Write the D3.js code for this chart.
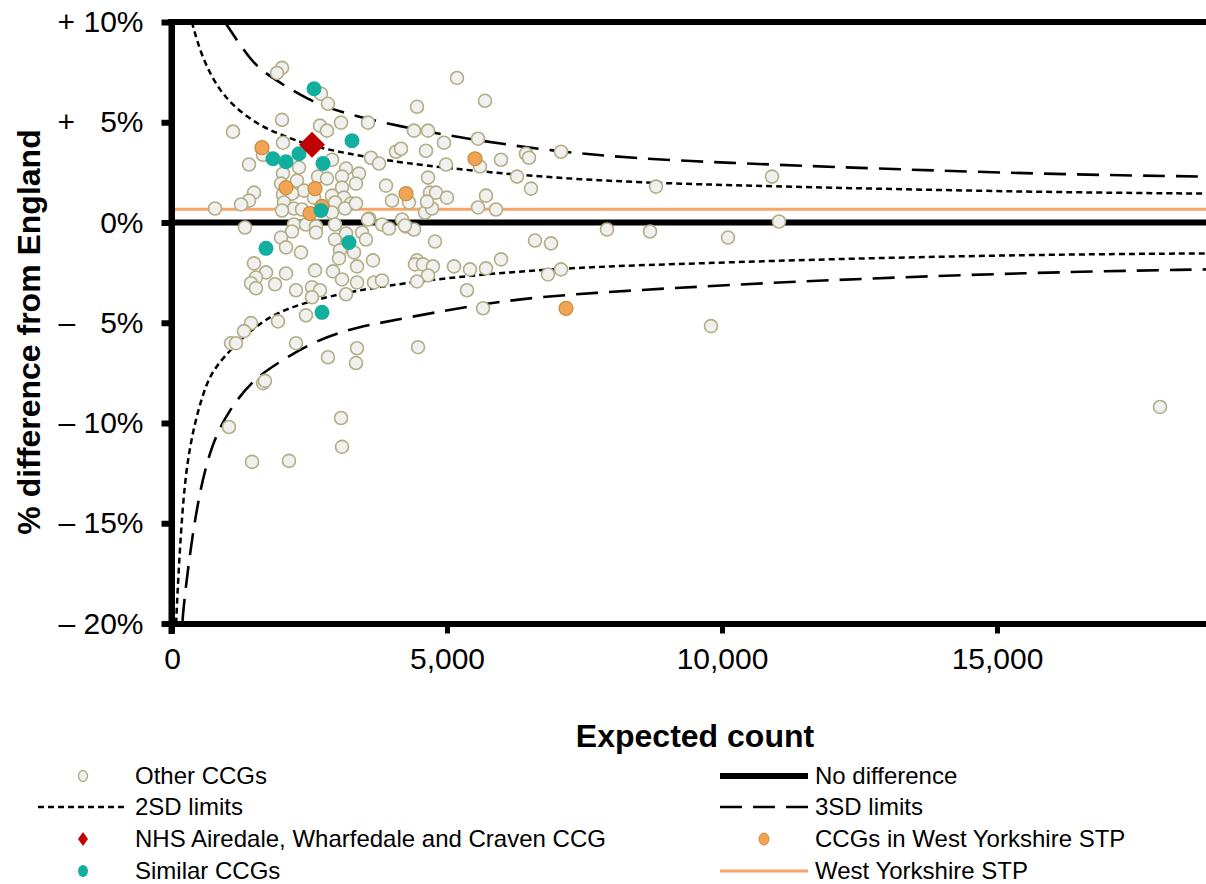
<!DOCTYPE html>
<html>
<head>
<meta charset="utf-8">
<script src="https://cdn.jsdelivr.net/npm/d3@7"></script>
<style>
  body { margin: 0; background: #fff; }
  svg { font-family: "Liberation Sans", Arial, sans-serif; }
</style>
</head>
<body>
<div id="chart"></div>
<script>
// expected count / % difference from England
const otherCCGs = [
  [2000, 7.71], [1909, 7.46], [2709, 6.42], [2836, 5.92], [5182, 7.21], [5691, 6.07], [4455, 5.77],
  [3073, 4.98], [3564, 4.98], [2000, 5.12], [1109, 4.53], [2691, 4.83], [2818, 4.58], [2018, 3.98],
  [1655, 3.38], [2909, 3.13], [1400, 2.89], [3618, 3.23], [3764, 2.94], [4073, 3.53], [4164, 3.68],
  [4400, 4.58], [4655, 4.58], [4945, 3.98], [4618, 3.58], [4982, 2.89], [5564, 4.18], [5600, 2.79],
  [5982, 3.13], [6436, 3.43], [6491, 3.23], [7073, 3.53], [2309, 2.74], [3164, 2.69], [3400, 2.44],
  [2018, 2.44], [2655, 2.29], [2273, 2.09], [1982, 1.94], [2818, 2.19], [3091, 2.29], [3345, 1.94],
  [3091, 1.74], [2400, 1.59], [3891, 1.84], [4000, 1.09], [1491, 1.49], [1400, 1.09], [1255, 0.90],
  [782, 0.70], [2018, 1.39], [2182, 1.44], [2909, 1.34], [3127, 1.24], [3255, 0.95], [2964, 1.00],
  [2036, 1.00], [2218, 0.70], [2000, 0.60], [2582, 1.24], [2909, 0.50], [3145, 0.70], [3345, 0.95],
  [2364, 0.65], [3582, 0.20], [4309, 1.00], [4600, 0.50], [4727, 0.70], [4655, 2.24], [4691, 1.49],
  [4800, 1.49], [5000, 1.24], [5709, 1.34], [4636, 1.04], [5564, 0.75], [5891, 0.65], [6273, 2.29],
  [6527, 1.69], [8800, 1.79], [10909, 2.29], [4182, 0.15],
  [11036, 0.05], [7909, -0.35], [8691, -0.45], [10109, -0.75], [6600, -0.90], [6891, -1.04],
  [4255, -0.20], [4400, -0.35], [4782, -0.95], [4455, -1.89], [4418, -2.09], [4564, -2.09],
  [4745, -2.19], [4655, -2.64], [4455, -2.94], [5127, -2.19], [5418, -2.34], [5709, -2.29],
  [5982, -1.84], [6836, -2.59], [7073, -2.34], [5364, -3.38], [5655, -4.28], [9800, -5.17],
  [4473, -6.22], [17964, -9.20],
  [1327, -0.25], [2218, -0.10], [2436, -0.10], [2182, -0.45], [2618, -0.20], [2618, -0.50],
  [2964, -0.10], [3564, 0.15], [3818, -0.10], [3945, -0.30], [4236, -0.15], [1982, -0.75],
  [2073, -1.24], [2345, -1.49], [2964, -0.85], [3164, -0.55], [3455, -0.50], [3527, -0.85],
  [3055, -1.39], [3309, -1.49], [3036, -1.79], [3655, -1.89], [3364, -2.19], [1491, -2.04],
  [1709, -2.49], [2073, -2.54], [2600, -2.39], [2927, -2.44], [3091, -2.84], [3364, -2.99],
  [3673, -2.99], [3818, -2.89], [1527, -2.74], [1436, -3.03], [1527, -3.28], [1873, -3.08],
  [2255, -3.38], [2545, -3.23], [2691, -3.38], [2545, -3.73], [3164, -3.58], [2436, -4.63],
  [1927, -4.93], [1436, -5.02], [1309, -5.42], [1073, -6.02], [1164, -6.02], [2255, -6.02],
  [2836, -6.72], [3364, -6.27], [3345, -7.01], [1655, -8.01], [1690, -7.90], [1036, -10.20],
  [1455, -11.94], [2127, -11.89], [3073, -9.75], [3091, -11.19]
];

const westYorksCCGs = [
  [1636, 3.73], [2073, 1.74], [2600, 1.69], [2727, 0.80], [2509, 0.45], [4255, 1.44], [5509, 3.18], [7164, -4.28]
];

const similarCCGs = [
  [2582, 6.67], [3273, 4.08], [1836, 3.18], [2073, 3.03], [2309, 3.43], [2745, 2.94],
  [2709, 0.60], [1709, -1.29], [3218, -1.00], [2727, -4.48]
];

const airedale = [[2545, 3.88]];

const westYorksSTP = 0.66;

// control limits
const limit2Upper = [[360, 10.0], [545, 8.2], [855, 6.6], [1160, 5.7], [1580, 4.85], [2000, 4.35], [2490, 3.85],
  [3160, 3.45], [4150, 2.97], [5950, 2.44], [7760, 2.08], [9580, 1.9], [11700, 1.75], [15640, 1.52], [18800, 1.44]];
const limit3Upper = [[960, 10.0], [1455, 7.96], [1764, 7.31], [2490, 6.07], [3090, 5.47], [4150, 4.78], [5345, 4.18],
  [6855, 3.58], [8364, 3.2], [10100, 2.98], [11700, 2.8], [15640, 2.42], [18800, 2.29]];
const limit2Lower = [[60, -21.5], [73, -19.8], [164, -15.2], [255, -12.3], [400, -10.1], [618, -8.0], [855, -6.9],
  [1636, -4.78], [2364, -4.03], [3091, -3.53], [4150, -3.03], [5945, -2.49], [7764, -2.19], [9582, -2.04],
  [11709, -1.84], [15636, -1.6], [18800, -1.54]];
const limit3Lower = [[160, -21.5], [182, -19.8], [309, -16.8], [491, -13.5], [727, -11.0], [1036, -9.35],
  [1455, -7.9], [1891, -7.05], [2618, -5.87], [3345, -5.22], [4280, -4.75], [5945, -3.88], [7764, -3.48],
  [9582, -3.2], [11709, -2.89], [15636, -2.49], [18800, -2.34]];

const xTicks = [0, 5000, 10000, 15000];
const yTicks = [10, 5, 0, -5, -10, -15, -20];
const yTickLabels = ['+ 10%', '+ \u20075%', '0%', '\u2013 \u20075%', '\u2013 10%', '\u2013 15%', '\u2013 20%'];

const width = 1206;
const height = 884;

const svg = d3.select('#chart')
  .append('svg')
  .attr('width', width)
  .attr('height', height);

const x = d3.scaleLinear().domain([0, 18800]).range([172, 1206]);
const y = d3.scaleLinear().domain([-20, 10]).range([623.5, 22]);

const colGrey = '#f0f0ee';
const colGreyStroke = '#b2ad86';
const colTeal = '#12ae9e';
const colOrange = '#f2a455';
const colOrangeStroke = '#c98b3b';
const colRed = '#c00000';
const colStp = '#f7a468';

svg.append('clipPath')
  .attr('id', 'plot-clip')
  .append('rect')
  .attr('x', 172).attr('y', 22)
  .attr('width', 1206 - 172).attr('height', 623.5 - 22);

const plot = svg.append('g').attr('clip-path', 'url(#plot-clip)');

// West Yorkshire STP level
plot.append('line')
  .attr('x1', x(0)).attr('x2', x(18800))
  .attr('y1', y(westYorksSTP)).attr('y2', y(westYorksSTP))
  .attr('stroke', colStp)
  .attr('stroke-width', 3);

// zero line
plot.append('line')
  .attr('x1', x(0)).attr('x2', x(18800))
  .attr('y1', y(0)).attr('y2', y(0))
  .attr('stroke', '#000')
  .attr('stroke-width', 6);

const line = d3.line()
  .x(d => x(d[0]))
  .y(d => y(d[1]))
  .curve(d3.curveBasis);

[limit2Upper, limit2Lower].forEach(lim => {
  plot.append('path')
    .attr('d', line(lim))
    .attr('fill', 'none')
    .attr('stroke', '#000')
    .attr('stroke-width', 2.5)
    .attr('stroke-dasharray', '6,4');
});

[limit3Upper, limit3Lower].forEach(lim => {
  plot.append('path')
    .attr('d', line(lim))
    .attr('fill', 'none')
    .attr('stroke', '#000')
    .attr('stroke-width', 2.6)
    .attr('stroke-dasharray', '22,11');
});

// points
plot.append('g')
  .selectAll('circle')
  .data(otherCCGs)
  .enter()
  .append('circle')
  .attr('cx', d => x(d[0]))
  .attr('cy', d => y(d[1]))
  .attr('r', 6.5)
  .attr('fill', colGrey)
  .attr('stroke', colGreyStroke)
  .attr('stroke-width', 1.6);

plot.append('g')
  .selectAll('circle')
  .data(westYorksCCGs)
  .enter()
  .append('circle')
  .attr('cx', d => x(d[0]))
  .attr('cy', d => y(d[1]))
  .attr('r', 7)
  .attr('fill', colOrange)
  .attr('stroke', colOrangeStroke)
  .attr('stroke-width', 1.2);

plot.append('g')
  .selectAll('circle')
  .data(similarCCGs)
  .enter()
  .append('circle')
  .attr('cx', d => x(d[0]))
  .attr('cy', d => y(d[1]))
  .attr('r', 7.5)
  .attr('fill', colTeal);

plot.append('g')
  .selectAll('path')
  .data(airedale)
  .enter()
  .append('path')
  .attr('transform', d => `translate(${x(d[0])},${y(d[1])})`)
  .attr('d', 'M0,-13L13,0L0,13L-13,0Z')
  .attr('fill', colRed);

// top border
svg.append('line')
  .attr('x1', 168).attr('x2', 1206)
  .attr('y1', y(10)).attr('y2', y(10))
  .attr('stroke', '#000').attr('stroke-width', 6);

// axes
const yAxis = d3.axisLeft(y)
  .tickValues(yTicks)
  .tickSize(10)
  .tickSizeOuter(0)
  .tickPadding(18)
  .tickFormat((d, i) => yTickLabels[i]);

const yG = svg.append('g')
  .attr('transform', `translate(${x(0) - 0.5},0)`)
  .call(yAxis);
yG.select('.domain').attr('stroke-width', 6);
yG.selectAll('.tick line').attr('stroke-width', 6);
yG.selectAll('.tick text')
  .attr('font-size', 30)
  .attr('font-family', '"Liberation Sans", Arial, sans-serif')
  .attr('fill', '#000');

const xAxis = d3.axisBottom(x)
  .tickValues(xTicks)
  .tickSize(10)
  .tickSizeOuter(0)
  .tickPadding(14)
  .tickFormat(d3.format(','));

const xG = svg.append('g')
  .attr('transform', `translate(0,${y(-20)})`)
  .call(xAxis);
xG.select('.domain').attr('stroke-width', 6);
xG.selectAll('.tick line').attr('stroke-width', 5);
xG.selectAll('.tick text')
  .attr('font-size', 30)
  .attr('font-family', '"Liberation Sans", Arial, sans-serif')
  .attr('fill', '#000');

// left bar runs over the full height
svg.append('line')
  .attr('x1', x(0) - 0.5).attr('x2', x(0) - 0.5)
  .attr('y1', 19).attr('y2', 634)
  .attr('stroke', '#000').attr('stroke-width', 6);

// axis titles
svg.append('text')
  .attr('x', 695)
  .attr('y', 747)
  .attr('text-anchor', 'middle')
  .attr('font-size', 32)
  .attr('font-weight', 'bold')
  .text('Expected count');

svg.append('text')
  .attr('transform', 'translate(40,332) rotate(-90)')
  .attr('text-anchor', 'middle')
  .attr('font-size', 32)
  .attr('font-weight', 'bold')
  .text('% difference from England');

// legend
const legendRows = [776, 807, 839, 871];
const legend = svg.append('g').attr('font-size', 24);

function legendText(tx, ty, label) {
  legend.append('text')
    .attr('x', tx)
    .attr('y', ty)
    .attr('dy', '0.35em')
    .text(label);
}

// left column
legend.append('ellipse')
  .attr('cx', 83).attr('cy', legendRows[0])
  .attr('rx', 4.5).attr('ry', 5.5)
  .attr('fill', colGrey).attr('stroke', colGreyStroke).attr('stroke-width', 1.5);
legendText(135, legendRows[0], 'Other CCGs');

legend.append('line')
  .attr('x1', 38).attr('x2', 125)
  .attr('y1', legendRows[1]).attr('y2', legendRows[1])
  .attr('stroke', '#000').attr('stroke-width', 2.5).attr('stroke-dasharray', '6,4');
legendText(135, legendRows[1], '2SD limits');

legend.append('path')
  .attr('transform', `translate(83,${legendRows[2]})`)
  .attr('d', 'M0,-7L5,0L0,7L-5,0Z')
  .attr('fill', colRed);
legendText(135, legendRows[2], 'NHS Airedale, Wharfedale and Craven CCG');

legend.append('ellipse')
  .attr('cx', 83).attr('cy', legendRows[3])
  .attr('rx', 5).attr('ry', 6)
  .attr('fill', colTeal);
legendText(135, legendRows[3], 'Similar CCGs');

// right column
legend.append('line')
  .attr('x1', 720).attr('x2', 808)
  .attr('y1', legendRows[0]).attr('y2', legendRows[0])
  .attr('stroke', '#000').attr('stroke-width', 6);
legendText(815, legendRows[0], 'No difference');

legend.append('line')
  .attr('x1', 720).attr('x2', 808)
  .attr('y1', legendRows[1]).attr('y2', legendRows[1])
  .attr('stroke', '#000').attr('stroke-width', 2.6).attr('stroke-dasharray', '22,11');
legendText(815, legendRows[1], '3SD limits');

legend.append('ellipse')
  .attr('cx', 764).attr('cy', legendRows[2])
  .attr('rx', 5).attr('ry', 6)
  .attr('fill', colOrange).attr('stroke', colOrangeStroke).attr('stroke-width', 1);
legendText(815, legendRows[2], 'CCGs in West Yorkshire STP');

legend.append('line')
  .attr('x1', 720).attr('x2', 808)
  .attr('y1', legendRows[3]).attr('y2', legendRows[3])
  .attr('stroke', colStp).attr('stroke-width', 3);
legendText(815, legendRows[3], 'West Yorkshire STP');
</script>
</body>
</html>
